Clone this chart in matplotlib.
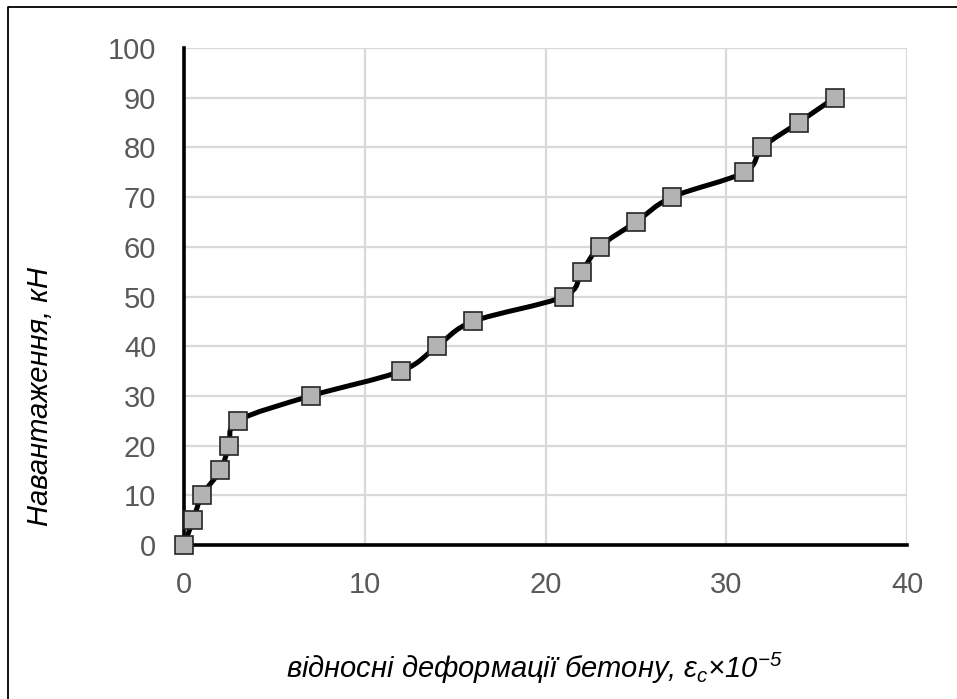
import numpy as np
import matplotlib
matplotlib.use('Agg')
import matplotlib.pyplot as plt
from matplotlib.path import Path
from matplotlib.patches import PathPatch
from matplotlib.lines import Line2D

plt.rcParams['font.family'] = ['Liberation Sans', 'DejaVu Sans']
plt.rcParams['mathtext.fontset'] = 'custom'
plt.rcParams['mathtext.rm'] = 'Liberation Sans:italic'
plt.rcParams['mathtext.it'] = 'Liberation Sans:italic'

# strain (x10^-5) and load (kN)
strain = [0, 0.5, 1, 2, 2.5, 3, 7, 12, 14, 16, 21, 22, 23, 25, 27, 31, 32, 34, 36]
load = [0, 5, 10, 15, 20, 25, 30, 35, 40, 45, 50, 55, 60, 65, 70, 75, 80, 85, 90]

x_ticks = [0, 10, 20, 30, 40]
y_ticks = [0, 10, 20, 30, 40, 50, 60, 70, 80, 90, 100]


def smooth_path(xs, ys):
    # Excel-like smoothed line: cubic bezier with Catmull-Rom control points
    pts = np.column_stack([xs, ys]).astype(float)
    n = len(pts)
    verts = [pts[0]]
    codes = [Path.MOVETO]
    for i in range(n - 1):
        p0 = pts[i - 1] if i > 0 else pts[i]
        p1 = pts[i]
        p2 = pts[i + 1]
        p3 = pts[i + 2] if i + 2 < n else pts[i + 1]
        c1 = p1 + (p2 - p0) / 6.0
        c2 = p2 - (p3 - p1) / 6.0
        verts += [c1, c2, p2]
        codes += [Path.CURVE4] * 3
    return Path(verts, codes)


fig = plt.figure(figsize=(9.57, 6.99), dpi=100)
ax = fig.add_axes([0.1923, 0.2203, 0.7555, 0.711])

ax.set_xlim(0, 40)
ax.set_ylim(0, 100)
ax.set_xticks(x_ticks)
ax.set_yticks(y_ticks)
ax.grid(True, color='#d9d9d9', linewidth=1.6, zorder=0)
ax.set_axisbelow(True)

for s in ['top', 'right']:
    ax.spines[s].set_visible(False)
for s in ['left', 'bottom']:
    ax.spines[s].set_linewidth(2.6)
    ax.spines[s].set_color('black')
    ax.spines[s].set_zorder(2)

ax.tick_params(length=0, labelsize=21, labelcolor='#595959', pad=19)
ax.tick_params(axis='y', pad=20)

patch = PathPatch(smooth_path(strain, load), facecolor='none', edgecolor='black',
                  linewidth=3.6, capstyle='round', joinstyle='round', zorder=3)
ax.add_patch(patch)
ax.plot(strain, load, linestyle='none', marker='s', markersize=13,
        markerfacecolor='#b3b3b3', markeredgecolor='#262626', markeredgewidth=1.2,
        zorder=4, clip_on=False)

# axis titles
fig.text(40 / 957, 1 - 396 / 699, 'Навантаження, кН', rotation=90, fontsize=21,
         fontstyle='italic', ha='center', va='center')
fig.text(534 / 957, 1 - 668 / 699,
         r'відносні деформації бетону, $\varepsilon_{c}$×10$^{-5}$',
         fontsize=21, fontstyle='italic', ha='center', va='center')

# outer frame (top and left edges only)
fig.add_artist(Line2D([8 / 957, 8 / 957, 1.0], [0.0, 1 - 7 / 699, 1 - 7 / 699],
                      transform=fig.transFigure, color='black', linewidth=1.3))

plt.savefig('out.png', dpi=100)
